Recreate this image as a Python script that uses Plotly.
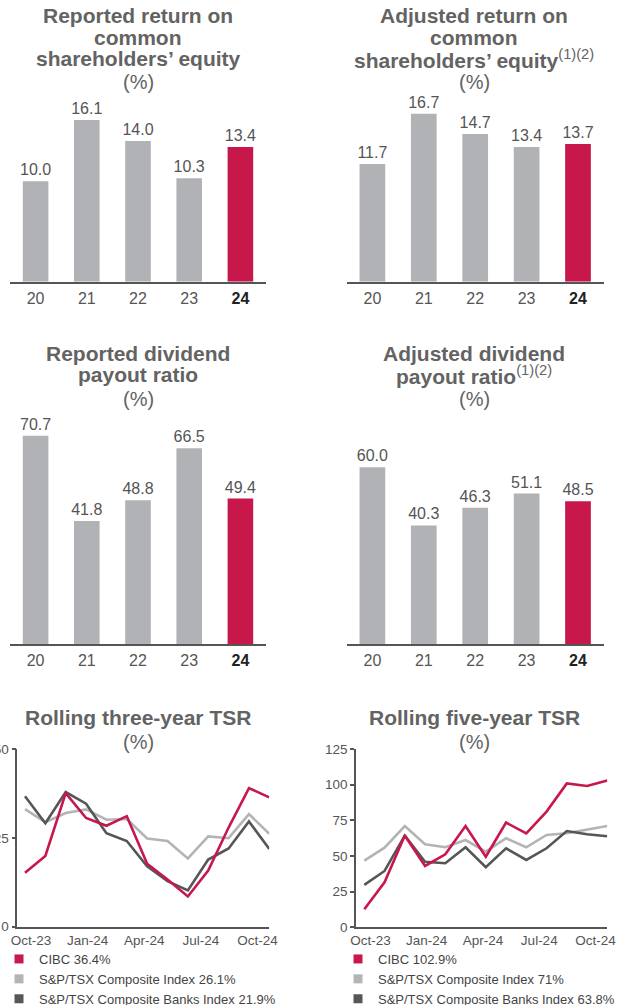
import plotly.graph_objects as go

# ---------------- data ----------------
years = ["20", "21", "22", "23", "24"]
year_ticktext = ["20", "21", "22", "23", "<span style='color:#222222'><b>24</b></span>"]
reported_roe = [10.0, 16.1, 14.0, 10.3, 13.4]
adjusted_roe = [11.7, 16.7, 14.7, 13.4, 13.7]
reported_payout = [70.7, 41.8, 48.8, 66.5, 49.4]
adjusted_payout = [60.0, 40.3, 46.3, 51.1, 48.5]

months = ["Oct-23", "Nov-23", "Dec-23", "Jan-24", "Feb-24", "Mar-24", "Apr-24",
          "May-24", "Jun-24", "Jul-24", "Aug-24", "Sep-24", "Oct-24"]
month_ticklabels = ["Oct-23", "Jan-24", "Apr-24", "Jul-24", "Oct-24"]

tsr3_cibc = [15.2, 19.9, 37.6, 30.6, 28.4, 31.1, 17.7, 13.3, 8.5, 15.8, 27.9, 39.0, 36.4]
tsr3_tsx = [33.1, 29.4, 32.0, 33.0, 30.1, 30.3, 24.8, 24.1, 19.2, 25.4, 24.9, 31.7, 26.1]
tsr3_banks = [36.7, 29.1, 37.9, 34.6, 26.3, 24.1, 17.0, 12.8, 10.2, 18.9, 22.0, 29.6, 21.9]

tsr5_cibc = [12.6, 31.5, 64.3, 43.0, 51.2, 71.0, 49.5, 73.4, 65.9, 81.1, 100.9, 99.1, 102.9]
tsr5_tsx = [46.7, 55.8, 71.0, 58.2, 56.1, 61.2, 53.0, 62.4, 56.1, 64.7, 65.9, 68.2, 71.0]
tsr5_banks = [29.7, 39.5, 64.3, 46.0, 44.9, 56.1, 42.1, 55.4, 47.2, 55.4, 67.5, 65.2, 63.8]

legend3 = ["CIBC 36.4%", "S&P/TSX Composite Index 26.1%", "S&P/TSX Composite Banks Index 21.9%"]
legend5 = ["CIBC 102.9%", "S&P/TSX Composite Index 71%", "S&P/TSX Composite Banks Index 63.8%"]

# ---------------- style ----------------
W, H = 622, 1005
RED = "#C8174A"
GREY_BAR = "#B1B2B5"
LIGHT_LINE = "#B3B4B7"
DARK_LINE = "#555658"
TITLE_C = "#636363"
TEXT_C = "#555555"
AXIS_C = "#555555"
FONT = "Liberation Sans, Arial, sans-serif"


def xd(a, b):
    return [a / W, b / W]


def yd(top, bottom):
    return [1 - bottom / H, 1 - top / H]


fig = go.Figure()

bar_panels = [
    (reported_roe, "x", "y", xd(10, 266), yd(100.8, 281.7), [0, 18]),
    (adjusted_roe, "x2", "y2", xd(346.7, 603.7), yd(100.8, 281.7), [0, 18]),
    (reported_payout, "x3", "y3", xd(10, 266), yd(423.1, 644.3), [0, 75]),
    (adjusted_payout, "x4", "y4", xd(346.7, 603.7), yd(423.1, 644.3), [0, 75]),
]

layout_axes = {}
for vals, xa, ya, xdom, ydom, yr in bar_panels:
    colors = [GREY_BAR] * (len(vals) - 1) + [RED]
    fig.add_trace(go.Bar(
        x=years, y=vals, xaxis=xa, yaxis=ya, width=0.5,
        marker=dict(color=colors, line=dict(width=0)),
        text=[f"{v:.1f}" for v in vals], textposition="outside",
        textfont=dict(size=16, color=TEXT_C, family=FONT),
        constraintext="none", cliponaxis=False, showlegend=False,
    ))
    xn = "xaxis" + xa[1:]
    yn = "yaxis" + ya[1:]
    layout_axes[xn] = dict(
        domain=xdom, anchor=ya, type="category", range=[-0.5, 4.5],
        showline=True, linecolor=AXIS_C, linewidth=1.5, ticks="",
        tickvals=years, ticktext=year_ticktext, showgrid=False, zeroline=False,
        tickfont=dict(size=16, color=TEXT_C, family=FONT), ticklabelstandoff=1,
    )
    layout_axes[yn] = dict(domain=ydom, anchor=xa, range=yr, visible=False,
                           showgrid=False, zeroline=False)

# line charts
tick_start, tick_step = 0.3, 2.78
line_panels = [
    ((tsr3_cibc, tsr3_tsx, tsr3_banks), legend3, "x5", "y5", xd(17.3, 269.3), yd(749, 926.7),
     [-0.378, 12], [0, 50], [0, 25, 50], "legend"),
    ((tsr5_cibc, tsr5_tsx, tsr5_banks), legend5, "x6", "y6", xd(356, 607.3), yd(749, 927.3),
     [-0.41, 12], [0, 125], [0, 25, 50, 75, 100, 125], "legend2"),
]
xs = list(range(len(months)))
for series, names, xa, ya, xdom, ydom, xr, yr, yticks, lg in line_panels:
    cibc, tsx, banks = series
    for vals, col in ((tsx, LIGHT_LINE), (banks, DARK_LINE), (cibc, RED)):
        fig.add_trace(go.Scatter(
            x=xs, y=vals, customdata=months, xaxis=xa, yaxis=ya, mode="lines",
            line=dict(color=col, width=2.6), showlegend=False, cliponaxis=False,
            hovertemplate="%{customdata}: %{y}<extra></extra>",
        ))
    for name, col in zip(names, (RED, LIGHT_LINE, DARK_LINE)):
        fig.add_trace(go.Scatter(
            x=[None], y=[None], xaxis=xa, yaxis=ya, mode="markers", name=name,
            marker=dict(symbol="square", size=9, color=col), legend=lg,
        ))
    xn = "xaxis" + xa[1:]
    yn = "yaxis" + ya[1:]
    layout_axes[xn] = dict(
        domain=xdom, anchor=ya, range=xr, showline=True, linecolor=AXIS_C, linewidth=1.5,
        ticks="", showgrid=False, zeroline=False,
        tickvals=[tick_start + tick_step * i for i in range(len(month_ticklabels))],
        ticktext=month_ticklabels,
        tickfont=dict(size=13.5, color=TEXT_C, family=FONT),
    )
    layout_axes[yn] = dict(
        domain=ydom, anchor=xa, range=yr, showline=True, linecolor=AXIS_C, linewidth=1.5,
        ticks="outside", ticklen=4, tickcolor=AXIS_C, tickwidth=1.5, tickvals=yticks,
        showgrid=False, zeroline=False,
        tickfont=dict(size=13.5, color=TEXT_C, family=FONT),
    )

# titles
annotations = []


def title(lines, cx, ys):
    for txt, yy, bold in zip(lines, ys, [True] * (len(lines) - 1) + [False]):
        annotations.append(dict(
            text=txt, x=cx / W, y=1 - yy / H, xref="paper", yref="paper",
            xanchor="center", yanchor="middle", showarrow=False,
            font=dict(size=21 if bold else 20, color=TITLE_C, family=FONT),
        ))


sup = "<sup>(1)(2)</sup>"
title(["<b>Reported return on</b>", "<b>common</b>", "<b>shareholders’ equity</b>", "(%)"], 138, [15, 37, 59, 82])
title(["<b>Adjusted return on</b>", "<b>common</b>", "<b>shareholders’ equity</b>" + sup, "(%)"], 474, [15, 37, 59, 82])
title(["<b>Reported dividend</b>", "<b>payout ratio</b>", "(%)"], 138, [353, 375, 399])
title(["<b>Adjusted dividend</b>", "<b>payout ratio</b>" + sup, "(%)"], 474, [353, 375, 399])
title(["<b>Rolling three-year TSR</b>", "(%)"], 138, [717, 742])
title(["<b>Rolling five-year TSR</b>", "(%)"], 474, [717, 742])

legend_style = dict(font=dict(size=13, color="#444444", family=FONT), bgcolor="rgba(0,0,0,0)",
                    xanchor="left", yanchor="top", borderwidth=0, itemclick=False,
                    itemdoubleclick=False, tracegroupgap=0)

fig.update_layout(
    width=W, height=H, margin=dict(l=0, r=0, t=0, b=0, autoexpand=False),
    paper_bgcolor="white", plot_bgcolor="white",
    font=dict(family=FONT, color=TEXT_C),
    annotations=annotations,
    legend=dict(x=-1 / W, y=1 - 944 / H, **legend_style),
    legend2=dict(x=338 / W, y=1 - 944 / H, **legend_style),
    **layout_axes,
)

fig.write_html("out.html", config={"displayModeBar": False},
               post_script="document.body.style.margin='0';document.body.style.overflow='hidden';")
